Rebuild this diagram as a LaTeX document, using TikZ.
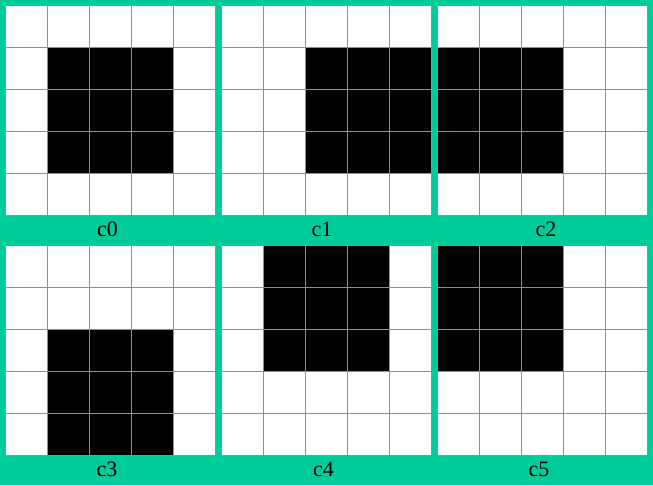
\documentclass[tikz,border=0pt]{standalone}
\usepackage{fontspec}
\setmainfont{Liberation Serif}
\definecolor{bg}{RGB}{0,204,153}
\definecolor{gridc}{RGB}{232,118,40}
\tikzset{
  gridline/.style={draw=gridc, line width=1pt},
  panellabel/.style={font=\fontsize{22}{24}\selectfont, anchor=base, inner sep=0pt}
}
\begin{document}
\begin{tikzpicture}[x=1pt,y=-1pt]
\fill[bg] (0,0) rectangle (653,485);
\useasboundingbox (0,0) rectangle (653,485);
\foreach \px/\py/\bc/\br/\lab/\lx in {5/5/1/1/c0/107.5, 221.3/5/2/1/c1/322, 437.5/5/0/1/c2/546, 5/245.3/1/2/c3/107, 221.3/245.3/1/0/c4/323.5, 437.5/245.3/0/0/c5/539}{
  \begin{scope}[shift={(\px,\py)}]
    \fill[white] (0,0) rectangle (210,210);
    \fill[black] ({\bc*42},{\br*42}) rectangle ++(126,126);
    \foreach \i in {0,...,5}{
      \draw[gridline] ({\i*42},0) -- ({\i*42},210);
      \draw[gridline] (0,{\i*42}) -- (210,{\i*42});
    }
  \end{scope}
  \node[panellabel] (lab-\lab) at (\lx,{\py+231}) {\lab};
}
\end{tikzpicture}
\end{document}
